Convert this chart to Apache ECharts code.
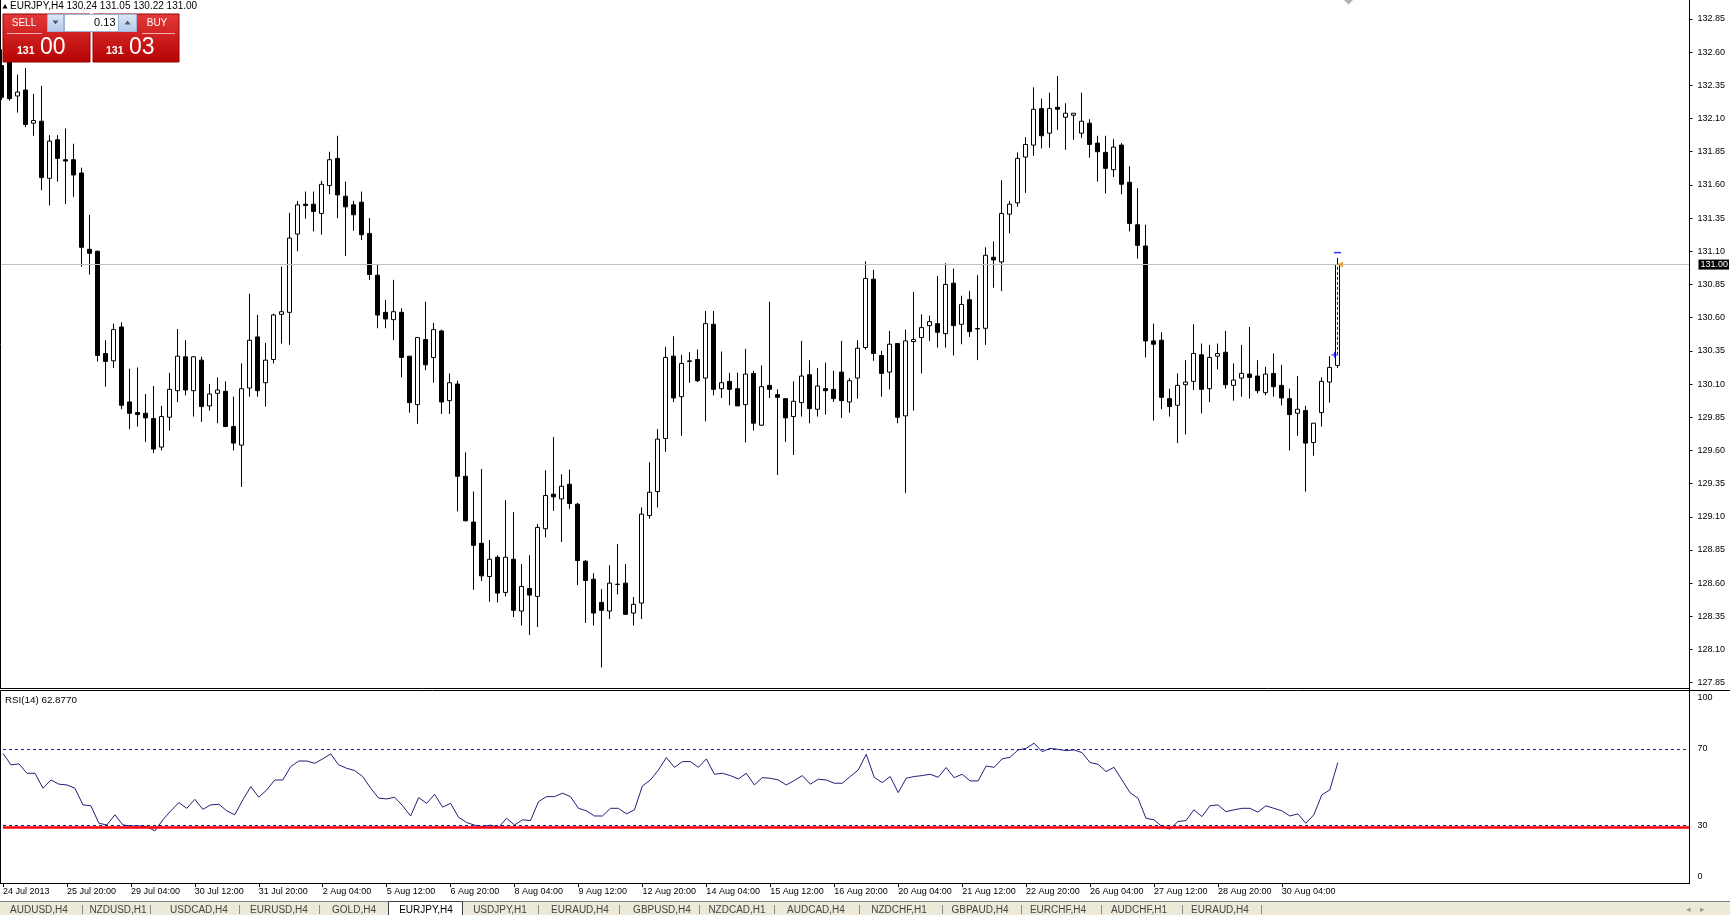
<!DOCTYPE html>
<html><head><meta charset="utf-8">
<script src="https://cdn.jsdelivr.net/npm/echarts@6/dist/echarts.min.js"></script>
<style>html,body{margin:0;padding:0;background:#fff;overflow:hidden}#c{width:1730px;height:915px}</style>
</head><body><div id="c"></div>
<script>
const symbolName = 'EURJPY,H4';
const headerOHLC = ['130.24', '131.05', '130.22', '131.00'];
const rsiTitle = 'RSI(14) 62.8770';
const lotSize = '0.13';
const sellQuote = ['131', '00'];
const buyQuote = ['131', '03'];
const timeLabels = ['24 Jul 2013','25 Jul 20:00','29 Jul 04:00','30 Jul 12:00','31 Jul 20:00','2 Aug 04:00','5 Aug 12:00','6 Aug 20:00','8 Aug 04:00','9 Aug 12:00','12 Aug 20:00','14 Aug 04:00','15 Aug 12:00','16 Aug 20:00','20 Aug 04:00','21 Aug 12:00','22 Aug 20:00','26 Aug 04:00','27 Aug 12:00','28 Aug 20:00','30 Aug 04:00'];
const barsPerLabel = 8;
const slotCount = 212;
const tabs = ['AUDUSD,H4','NZDUSD,H1','USDCAD,H4','EURUSD,H4','GOLD,H4','EURJPY,H4','USDJPY,H1','EURAUD,H4','GBPUSD,H4','NZDCAD,H1','AUDCAD,H4','NZDCHF,H1','GBPAUD,H4','EURCHF,H4','AUDCHF,H1','EURAUD,H4'];
const activeTab = 5;

const open = [132.50,132.58,132.27,132.315,132.065,132.08,131.65,131.94,131.79,131.79,
131.69,131.115,131.10,130.33,130.275,130.53,129.965,129.885,129.88,129.84,
129.625,129.85,130.05,130.305,130.05,130.28,129.935,130.03,130.045,129.78,
129.64,130.07,130.455,130.11,130.285,130.625,130.64,131.23,131.455,131.455,
131.385,131.595,131.80,131.515,131.45,131.47,131.235,130.92,130.64,130.585,
130.64,130.31,129.945,130.435,130.30,130.50,129.975,130.10,129.405,129.06,
128.90,128.65,128.795,128.53,128.78,128.39,128.56,128.50,129.01,129.27,
129.235,129.345,129.195,128.765,128.63,128.455,128.39,128.59,128.60,128.375,
128.45,129.11,129.29,129.69,130.31,130.005,130.27,130.285,130.145,130.55,
130.065,130.12,130.065,129.945,130.18,129.79,130.09,130.02,129.99,129.855,
129.96,130.17,129.91,130.065,130.06,130.19,129.965,130.145,130.375,130.89,
130.315,130.19,130.405,129.86,130.42,130.45,130.54,130.555,130.48,130.86,
130.55,130.735,130.515,130.52,131.055,131.02,131.38,131.465,131.81,131.90,
132.175,131.99,132.185,132.11,132.125,131.99,132.065,131.915,131.845,131.715,
131.90,131.62,131.30,131.14,130.425,130.43,129.99,129.94,130.095,130.12,
130.32,130.065,130.31,130.34,130.09,130.145,130.175,130.16,130.035,130.18,
130.09,129.99,129.88,129.90,129.66,129.885,130.115,130.24];
const high = [132.62,132.68,132.43,132.48,132.285,132.345,131.975,131.975,132.025,131.91,
131.73,131.375,131.105,130.43,130.555,130.565,130.215,130.225,130.025,130.085,
129.935,130.185,130.515,130.43,130.31,130.305,130.10,130.15,130.12,130.005,
130.255,130.78,130.62,130.41,130.63,130.985,131.39,131.48,131.55,131.55,
131.63,131.85,131.97,131.625,131.48,131.55,131.35,131.005,130.735,130.885,
130.67,130.31,130.45,130.72,130.56,130.51,130.18,130.125,129.585,129.29,
129.46,128.925,128.81,129.225,129.135,128.745,128.81,129.045,129.45,129.70,
129.42,129.455,129.205,128.775,128.675,128.555,128.735,128.895,128.745,128.495,
129.17,129.51,129.76,130.38,130.46,130.32,130.34,130.36,130.65,130.65,
130.345,130.185,130.185,130.365,130.20,130.24,130.72,130.06,129.99,130.12,
130.425,130.28,130.22,130.26,130.20,130.425,130.145,130.43,131.025,130.96,
130.35,130.50,130.405,130.51,130.795,130.625,130.615,130.915,131.01,130.97,
130.765,130.80,130.92,131.13,131.175,131.635,131.48,131.845,131.96,132.335,
132.25,132.295,132.42,132.215,132.14,132.295,132.095,131.97,131.97,131.945,
131.915,131.74,131.575,131.30,130.555,130.49,130.065,130.18,130.28,130.55,
130.405,130.395,130.405,130.50,130.255,130.395,130.53,130.28,130.23,130.33,
130.245,130.065,130.16,129.935,129.805,130.15,130.31,131.05];
const low = [132.24,132.235,132.145,132.035,131.97,131.56,131.445,131.625,131.455,131.51,
130.985,130.925,130.27,130.08,130.22,129.91,129.76,129.78,129.665,129.58,
129.60,129.75,129.965,130.015,129.855,129.815,129.90,129.805,129.775,129.60,
129.325,130.005,130.005,129.93,130.255,130.405,130.395,131.10,131.345,131.25,
131.225,131.53,131.35,131.065,131.255,131.185,130.885,130.52,130.52,130.43,
130.15,129.885,129.80,130.205,130.11,129.875,129.875,129.14,129.065,128.55,
128.615,128.46,128.455,128.50,128.345,128.28,128.21,128.27,128.945,129.145,
128.91,129.16,128.585,128.30,128.28,127.965,128.33,128.515,128.36,128.28,
128.33,129.085,129.17,129.59,129.965,129.71,130.11,130.115,129.82,130.015,
129.995,129.94,129.935,129.66,129.75,129.785,129.995,129.415,129.665,129.565,
129.855,129.805,129.855,129.87,129.965,129.845,129.885,129.99,130.36,130.275,
130.005,130.06,129.805,129.28,129.90,130.18,130.425,130.375,130.375,130.315,
130.40,130.455,130.28,130.395,130.825,130.80,131.235,131.435,131.54,131.82,
131.875,131.88,132.015,131.865,131.94,131.955,131.805,131.625,131.535,131.66,
131.53,131.25,131.045,130.30,129.825,129.91,129.855,129.655,129.72,130.055,
129.88,129.965,130.21,130.065,129.975,130.005,129.99,130.03,130.015,130.005,
129.94,129.60,129.71,129.29,129.56,129.78,129.96,130.22];
const close = [132.26,132.25,132.30,132.055,132.085,131.655,131.93,131.80,131.78,131.675,
131.13,131.085,130.315,130.27,130.51,129.94,129.88,129.87,129.845,129.61,
129.855,130.06,130.31,130.055,130.305,129.93,130.025,130.055,129.78,129.655,
130.065,130.43,130.05,130.28,130.62,130.645,131.20,131.45,131.445,131.40,
131.605,131.79,131.525,131.435,131.375,131.225,130.925,130.62,130.59,130.645,
130.30,129.96,130.45,130.245,130.51,129.965,130.11,129.405,129.07,128.885,
128.655,128.78,128.525,128.795,128.395,128.575,128.51,129.02,129.26,129.25,
129.33,129.20,128.77,128.62,128.375,128.395,128.60,128.592,128.365,128.44,
129.12,129.285,129.685,130.30,129.995,130.255,130.275,130.125,130.555,130.06,
130.11,130.06,129.935,130.175,129.805,130.08,130.06,130.00,129.845,129.97,
130.16,129.915,130.085,130.05,129.99,129.975,130.125,130.37,130.895,130.33,
130.18,130.40,129.85,130.425,130.435,130.525,130.57,130.49,130.85,130.54,
130.70,130.495,130.518,131.07,131.035,131.385,131.455,131.80,131.905,132.17,
131.97,132.175,132.17,132.14,132.14,132.08,131.905,131.85,131.725,131.885,
131.605,131.31,131.145,130.425,130.40,130.00,129.93,130.09,130.115,130.33,
130.06,130.30,130.33,130.095,130.13,130.18,130.15,130.05,130.175,130.08,
129.995,129.87,129.91,129.655,129.805,130.12,130.225,131.00];
const rsi = [67.7,61.7,62.2,57.3,57.3,49.5,53.8,51.6,51.2,49.5,
40.8,40.3,31.2,30.3,35.6,30.3,29.8,29.8,29.5,27.2,
33.0,37.7,42.0,39.0,43.7,38.5,40.8,41.1,37.7,35.6,
43.4,50.3,44.8,48.6,53.8,53.8,60.8,63.7,63.7,62.5,
64.8,67.4,61.7,59.9,58.7,55.6,49.5,44.3,43.9,44.8,
40.3,35.0,44.6,41.6,46.3,39.6,41.6,34.3,31.6,30.2,
29.5,30.2,29.0,33.8,30.3,33.0,32.6,42.5,45.1,45.1,
46.9,45.1,39.0,37.7,35.0,35.0,39.0,39.0,36.1,38.2,
50.7,53.8,59.0,65.5,60.4,63.4,63.4,60.4,64.8,56.8,
57.3,56.1,54.3,57.3,51.2,55.0,54.7,53.8,51.2,53.5,
56.1,51.6,54.2,53.8,52.1,52.1,55.6,59.0,67.2,55.2,
52.4,55.6,47.2,54.7,55.6,56.1,56.8,55.2,60.3,55.0,
56.8,53.3,53.3,61.1,60.4,64.8,65.7,69.5,70.3,73.0,
68.6,70.3,69.8,69.1,69.5,68.1,62.9,62.0,58.2,60.4,
53.8,47.2,44.3,33.8,33.0,29.5,28.1,32.1,32.6,38.2,
34.7,40.3,40.8,37.3,38.2,39.0,39.0,37.0,40.3,39.0,
37.7,35.0,36.1,31.2,35.6,46.0,48.6,62.877];
const priceMin = 127.85, priceMax = 132.85, priceStep = 0.25;
const rsiAxisLabels = [0, 30, 70, 100];
const rsiLevels = [70, 30];
const redLevel = 28.9;
const bidPrice = 131.00;
const tradeOpen = 130.32, tradeClose = 131.00, tradeMark = 131.09;

const FONT = '"Liberation Sans", Arial, sans-serif';
const lastIdx = close.length - 1;
const cats = [];
for (let k = 0; k < slotCount; k++) {
  cats.push(k % barsPerLabel === 0 && k / barsPerLabel < timeLabels.length ? timeLabels[k / barsPerLabel] : '');
}
const labelShown = (i) => i % barsPerLabel === 0 && i / barsPerLabel < timeLabels.length;
const ohlc = open.map((o, i) => [o - priceMin, close[i] - priceMin, low[i] - priceMin, high[i] - priceMin]);

const chart = echarts.init(document.getElementById('c'), null, {renderer: 'canvas'});

const G = [];
const Z = 100;
function line(x1, y1, x2, y2, c, w) { G.push({type: 'line', z: Z, silent: true, shape: {x1, y1, x2, y2}, style: {stroke: c, lineWidth: w || 1}}); }
function rect(x, y, w, h, fill, stroke) { G.push({type: 'rect', z: Z, silent: true, shape: {x, y, width: w, height: h}, style: {fill, stroke: stroke || null, lineWidth: 1}}); }
function text(x, y, t, o) { G.push({type: 'text', z: Z + 1, silent: true, x, y, style: Object.assign({text: t, fill: '#000', font: '10px ' + FONT, textAlign: 'left', textVerticalAlign: 'middle'}, o || {})}); }
const redG = () => new echarts.graphic.LinearGradient(0, 0, 0, 1, [{offset: 0, color: '#e43a3a'}, {offset: 1, color: '#b50202'}]);
const blueG = () => new echarts.graphic.LinearGradient(0, 0, 0, 1, [{offset: 0, color: '#dde8f8'}, {offset: 1, color: '#b4c8e8'}]);

// panel frames
line(0.5, 0, 0.5, 689, '#000');
line(0, 688.5, 1690, 688.5, '#000');
line(1689.5, 0, 1689.5, 884, '#000');
line(0, 690.5, 1730, 690.5, '#000');
line(0.5, 690, 0.5, 884, '#000');
line(0, 883.5, 1690, 883.5, '#000');
// chart shift marker
G.push({type: 'polygon', z: Z, silent: true, shape: {points: [[1344, 0], [1353, 0], [1348.5, 4.5]]}, style: {fill: '#b0b0b0'}});
// header
G.push({type: 'polygon', z: Z, silent: true, shape: {points: [[2.5, 8.5], [5, 4], [7.5, 8.5]]}, style: {fill: '#000'}});
text(10, 6.5, symbolName + ' ' + headerOHLC.join(' '), {font: '10px ' + FONT});
text(5, 700, rsiTitle, {font: '9.8px ' + FONT});
// one-click trading panel
rect(3, 14, 87, 48, redG(), '#9a0000');
rect(93, 14, 86, 48, redG(), '#9a0000');
line(7, 33.5, 42, 33.5, '#f3b0b0');
line(142, 33.5, 175, 33.5, '#f3b0b0');
text(24, 23.5, 'SELL', {fill: '#fff', font: '10px ' + FONT, textAlign: 'center'});
text(157, 23.5, 'BUY', {fill: '#fff', font: '10px ' + FONT, textAlign: 'center'});
rect(47.5, 14.5, 16, 17, blueG(), '#9fb4d6');
rect(64.5, 14.5, 54, 17, '#fff', '#9fb4d6');
rect(118.5, 14.5, 18, 17, blueG(), '#9fb4d6');
G.push({type: 'polygon', z: Z + 1, silent: true, shape: {points: [[52.5, 20.5], [58.5, 20.5], [55.5, 24.5]]}, style: {fill: '#4a5a78'}});
G.push({type: 'polygon', z: Z + 1, silent: true, shape: {points: [[124.5, 24.5], [130.5, 24.5], [127.5, 20.5]]}, style: {fill: '#4a5a78'}});
text(115.5, 23, lotSize, {font: '11px ' + FONT, textAlign: 'right'});
text(17, 51.5, sellQuote[0], {fill: '#fff', font: 'bold 10.5px ' + FONT});
text(40, 48, sellQuote[1], {fill: '#fff', font: '23px ' + FONT});
text(106, 51.5, buyQuote[0], {fill: '#fff', font: 'bold 10.5px ' + FONT});
text(129, 48, buyQuote[1], {fill: '#fff', font: '23px ' + FONT});
// tab bar
rect(0, 901, 1730, 14, '#ece9d8');
line(0, 901.5, 1730, 901.5, '#7f7f7f');
const tabCenters = [39, 118, 199, 279, 354, 426, 500, 580, 662, 737, 816, 899, 980, 1058, 1139, 1220];
const tabSeps = [82, 150, 239, 319, 538, 619, 699, 774, 859, 942, 1021, 1101, 1182, 1261];
rect(388.5, 901.5, 74, 14, '#fff', '#404040');
tabSeps.forEach(x => line(x + 0.5, 905, x + 0.5, 914, '#8c8c8c'));
tabs.forEach((t, i) => text(tabCenters[i], 910.5, t, {textAlign: 'center', fill: i === activeTab ? '#000' : '#444', font: '10px ' + FONT}));
text(1688, 910, '\u25C2', {fill: '#9a9a9a', font: '9px ' + FONT, textAlign: 'center'});
text(1702, 910, '\u25B8', {fill: '#9a9a9a', font: '9px ' + FONT, textAlign: 'center'});

const axisFont = {fontFamily: FONT, fontSize: 9, color: '#000'};

chart.setOption({
  animation: false,
  backgroundColor: '#fff',
  grid: [
    {left: 1.5, top: 19, width: 1688, height: 663.7},
    {left: 1.5, top: 691.5, width: 1688, height: 191.5}
  ],
  xAxis: [
    {type: 'category', gridIndex: 0, data: cats, boundaryGap: false, show: false},
    {type: 'category', gridIndex: 1, data: cats, boundaryGap: false,
     axisLine: {show: false}, splitLine: {show: false},
     axisTick: {show: true, interval: labelShown, length: 4, lineStyle: {color: '#000'}},
     axisLabel: {interval: labelShown, align: 'left', margin: 4, fontSize: 9, hideOverlap: false, fontFamily: FONT, color: '#000'}}
  ],
  yAxis: [
    {type: 'value', gridIndex: 0, position: 'right', min: 0, max: priceMax - priceMin, interval: priceStep,
     axisLine: {show: false}, splitLine: {show: false},
     axisTick: {show: true, length: 3, lineStyle: {color: '#000'}},
     axisLabel: Object.assign({margin: 8, formatter: v => (v + priceMin).toFixed(2)}, axisFont)},
    {type: 'value', gridIndex: 1, position: 'right', min: 0, max: 100, interval: 10,
     axisLine: {show: false}, splitLine: {show: false}, axisTick: {show: false},
     axisLabel: Object.assign({margin: 8,
       formatter: v => rsiAxisLabels.indexOf(v) < 0 ? '' : (v === 100 ? '{t|' + v + '}' : v === 0 ? '{b|' + v + '}' : String(v)),
       rich: {t: Object.assign({padding: [12, 0, 0, 0]}, axisFont), b: Object.assign({padding: [0, 0, 12, 0]}, axisFont)}}, axisFont)}
  ],
  series: [
    {type: 'candlestick', xAxisIndex: 0, yAxisIndex: 0, data: ohlc, barWidth: 4, clip: true,
     itemStyle: {color: '#fff', color0: '#000', borderColor: '#000', borderColor0: '#000', borderWidth: 1},
     markLine: {silent: true, symbol: 'none', animation: false,
       lineStyle: {color: '#c0c0c0', type: 'solid', width: 1},
       label: {show: true, position: 'end', distance: 9, formatter: bidPrice.toFixed(2), color: '#fff', backgroundColor: '#000', padding: [1, 1, 0, 2], fontFamily: FONT, fontSize: 9},
       data: [{yAxis: bidPrice - priceMin}]}},
    {type: 'line', xAxisIndex: 0, yAxisIndex: 0, symbol: 'none', silent: true, z: 5,
     data: [[lastIdx, tradeOpen - priceMin], [lastIdx, tradeClose - priceMin]],
     lineStyle: {color: '#0000ff', width: 1, type: [3, 2]}},
    {type: 'scatter', xAxisIndex: 0, yAxisIndex: 0, silent: true, z: 6,
     data: [{value: [lastIdx, tradeOpen - priceMin], symbol: 'path://M0,2L5,2L5,3L0,3Z M2,0L3,0L3,5L2,5Z', symbolSize: 6, symbolOffset: [-3, 0], itemStyle: {color: '#0000ff'}},
            {value: [lastIdx, tradeClose - priceMin], symbol: 'triangle', symbolRotate: 90, symbolSize: [6, 6], symbolOffset: [2.5, 0], itemStyle: {color: '#d4a020'}},
            {value: [lastIdx, tradeMark - priceMin], symbol: 'rect', symbolSize: [7, 1.5], itemStyle: {color: '#0000ff'}}]},
    {type: 'line', xAxisIndex: 1, yAxisIndex: 1, data: rsi, symbol: 'none', silent: true,
     lineStyle: {color: '#20207a', width: 1},
     markLine: {silent: true, symbol: 'none', animation: false, label: {show: false},
       data: rsiLevels.map(v => ({yAxis: v, lineStyle: {color: '#1a1aa8', type: [3, 3], width: 1}}))
         .concat([{yAxis: redLevel, lineStyle: {color: '#ff0000', type: 'solid', width: 2.5}}])}}
  ],
  graphic: G
});
</script></body></html>
